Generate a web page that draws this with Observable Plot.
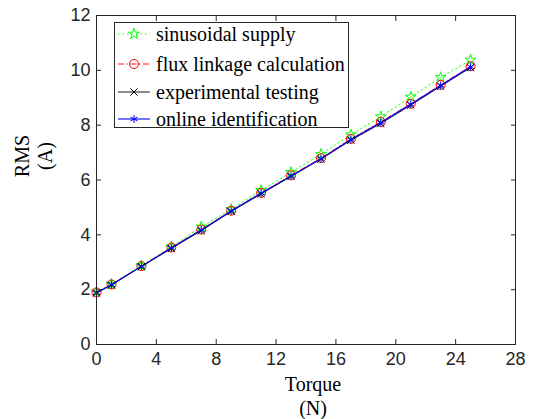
<!DOCTYPE html>
<html><head><meta charset="utf-8">
<script src="https://cdn.jsdelivr.net/npm/d3@7"></script>
<script src="https://cdn.jsdelivr.net/npm/@observablehq/plot@0.6"></script>
<style>
body{margin:0;background:#fff;}
#wrap{position:relative;width:534px;height:419px;}
#legend{position:absolute;left:114px;top:22px;width:233px;height:104px;border:1px solid #262626;background:#fff;font-family:"Liberation Serif","Times New Roman",serif;font-size:20px;color:#000;}
.row{position:absolute;left:0;height:24px;display:flex;align-items:center;white-space:nowrap;}
.row svg{margin-left:2px;margin-right:5px;}
</style>
</head><body>
<div id="wrap"><div id="legend"></div></div>
<script>
const torque = [0, 1, 3, 5, 7, 9, 11, 13, 15, 17, 19, 21, 23, 25];
const sinusoidal = [1.92, 2.20, 2.88, 3.56, 4.29, 4.93, 5.62, 6.28, 6.94, 7.65, 8.31, 9.03, 9.74, 10.38];
const fluxLinkage = [1.90, 2.19, 2.86, 3.54, 4.19, 4.88, 5.53, 6.17, 6.80, 7.50, 8.12, 8.78, 9.47, 10.15];
const experimental = [1.88, 2.17, 2.84, 3.50, 4.15, 4.85, 5.49, 6.13, 6.76, 7.45, 8.06, 8.73, 9.42, 10.10];
const online = [1.89, 2.18, 2.85, 3.52, 4.18, 4.87, 5.52, 6.15, 6.78, 7.48, 8.10, 8.76, 9.45, 10.13];
const seriesNames = ["sinusoidal supply", "flux linkage calculation", "experimental testing", "online identification"];
const xTicks = [0, 4, 8, 12, 16, 20, 24, 28];
const yTicks = [0, 2, 4, 6, 8, 10, 12];

const styles = [
  {color: "#00ff00", dash: "1.5,3", symbol: "star", r: 3.4, sym: d3.symbolStar, size: 38},
  {color: "#ff0000", dash: "6,2.5,1.5,2.5", symbol: "circle", r: 4.5, sym: d3.symbolCircle, size: 64},
  {color: "#000000", dash: null, symbol: "times", r: 3.4, sym: d3.symbolTimes, size: 36},
  {color: "#0000ff", dash: null, symbol: "asterisk", r: 3.8, sym: d3.symbolAsterisk, size: 45}
];
const values = [sinusoidal, fluxLinkage, experimental, online];
const tables = values.map(v => torque.map((t, i) => ({torque: t, rms: v[i]})));

const marks = [];
tables.forEach((tb, k) => {
  const s = styles[k];
  marks.push(Plot.line(tb, {x: "torque", y: "rms", stroke: s.color, strokeWidth: k === 3 ? 1.1 : 0.9, strokeDasharray: s.dash}));
  marks.push(Plot.dot(tb, {x: "torque", y: "rms", symbol: s.symbol, r: s.r, fill: "none", stroke: s.color, strokeWidth: 1}));
});

const serif = "'Liberation Serif', 'Times New Roman', serif";
const chart = Plot.plot({
  width: 534, height: 419,
  marginLeft: 96, marginRight: 19, marginTop: 15, marginBottom: 75,
  x: {domain: [0, 28], label: null},
  y: {domain: [0, 12], label: null},
  style: {fontFamily: "'Liberation Sans', Arial, sans-serif", background: "#fff"},
  marks: [
    Plot.axisX(xTicks, {anchor: "bottom", tickSize: -5, tickPadding: 13, fontSize: 18, color: "#262626", label: null}),
    Plot.axisX(xTicks, {anchor: "top", tickSize: -5, tickFormat: () => "", color: "#262626", label: null}),
    Plot.axisY(yTicks, {anchor: "left", tickSize: -5, tickPadding: 11, fontSize: 18, color: "#262626", label: null}),
    Plot.axisY(yTicks, {anchor: "right", tickSize: -5, tickFormat: () => "", color: "#262626", label: null}),
    ...marks,
    Plot.frame({stroke: "#262626", strokeWidth: 1}),
    Plot.text(["Torque\n(N)"], {frameAnchor: "bottom", dx: 7, dy: 29, lineAnchor: "top", lineHeight: 1.2, fontSize: 20, fontFamily: serif, fill: "#000"}),
    Plot.text(["RMS\n(A)"], {frameAnchor: "left", textAnchor: "middle", dx: -84, dy: -24, rotate: -90, lineAnchor: "top", lineHeight: 1.15, fontSize: 20, fontFamily: serif, fill: "#000"})
  ]
});
document.getElementById("wrap").insertBefore(chart, document.getElementById("legend"));

// legend
const legend = d3.select("#legend");
const rowCenters = [11, 41, 69, 96];
seriesNames.forEach((name, k) => {
  const s = styles[k];
  const row = legend.append("div").attr("class", "row").style("top", (rowCenters[k] - 12) + "px");
  const svg = row.append("svg").attr("width", 34).attr("height", 20);
  svg.append("line").attr("x1", 1).attr("x2", 33).attr("y1", 10).attr("y2", 10)
    .attr("stroke", s.color).attr("stroke-width", k === 3 ? 1.1 : 0.9).attr("stroke-dasharray", s.dash);
  svg.append("path").attr("transform", "translate(17,10)").attr("d", d3.symbol(s.sym, s.size)())
    .attr("fill", "none").attr("stroke", s.color).attr("stroke-width", 1);
  row.append("span").text(name);
});
</script>
</body></html>
